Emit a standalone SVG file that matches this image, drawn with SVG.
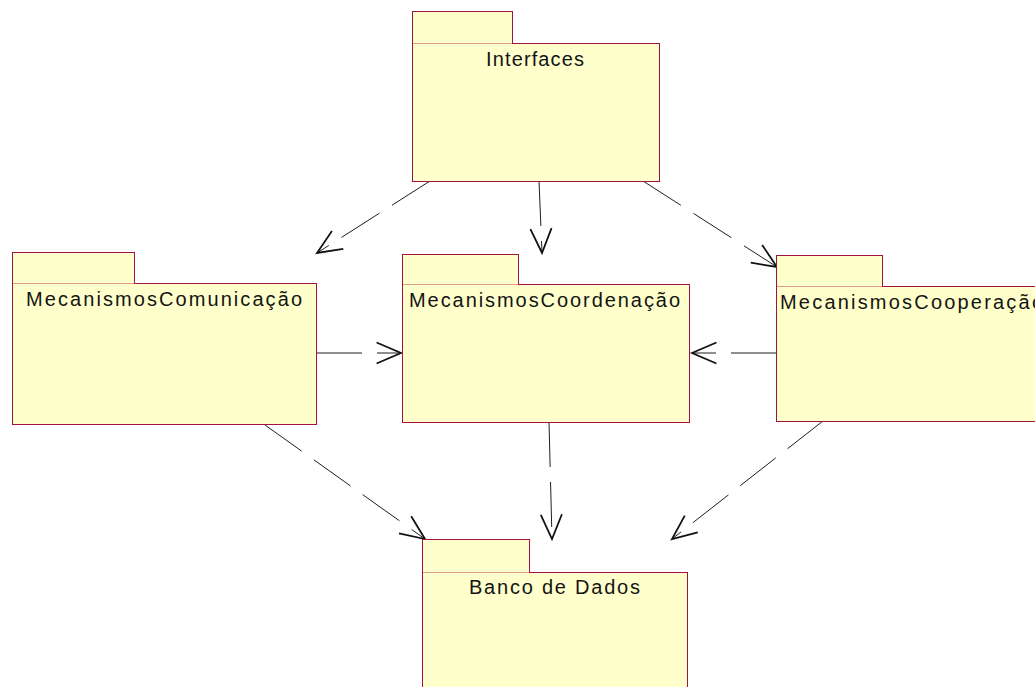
<svg xmlns="http://www.w3.org/2000/svg" width="1035" height="687" viewBox="0 0 1035 687">
  <style>
    .pkg { fill: #FFFFCC; stroke: #A3123E; stroke-width: 1; }
    .seam { stroke: #DE9C8C; stroke-width: 1; fill: none; }
    .lbl { font-family: "Liberation Sans", Arial, sans-serif; font-size: 20px; fill: #141414; }
    .dep { fill: none; stroke: #1E1E1E; stroke-width: 1; stroke-dasharray: 45 15; marker-end: url(#open); }
  </style>
  <defs>
    <marker id="open" markerUnits="userSpaceOnUse" markerWidth="30" markerHeight="30" viewBox="-25 -12 27 24" refX="0" refY="0" orient="auto" overflow="visible">
      <path d="M-22,-9.5 L0,0 L-22,9.5" fill="none" stroke="#111" stroke-width="1.6" stroke-dasharray="none"/>
    </marker>
  </defs>
  <rect width="1035" height="687" fill="#FFFFFF"/>

  <!-- dependency arrows -->
  <g id="connectors">
    <path class="dep" d="M430,181 L317,253"/>
    <path class="dep" d="M539,181 L542,253"/>
    <path class="dep" d="M643,181 L777,267"/>
    <path class="dep" d="M317,353 L401,353"/>
    <path class="dep" d="M776,353 L692,353"/>
    <path class="dep" d="M265,425 L425,539"/>
    <path class="dep" d="M549,422 L552,539"/>
    <path class="dep" d="M823,421 L672,539"/>
  </g>

  <!-- packages -->
  <g id="interfaces">
    <rect class="pkg" x="412.5" y="11.5" width="100" height="32"/>
    <rect class="pkg" x="412.5" y="43.5" width="247" height="138"/>
    <line class="seam" x1="413" y1="43.5" x2="512" y2="43.5"/>
    <text class="lbl" x="486" y="66" textLength="98" lengthAdjust="spacing">Interfaces</text>
  </g>

  <g id="mecanismos-comunicacao">
    <rect class="pkg" x="12.5" y="252.5" width="122" height="31"/>
    <rect class="pkg" x="12.5" y="283.5" width="304" height="141"/>
    <line class="seam" x1="13" y1="283.5" x2="134" y2="283.5"/>
    <text class="lbl" x="26" y="306" textLength="276" lengthAdjust="spacing">MecanismosComunicação</text>
  </g>

  <g id="mecanismos-coordenacao">
    <rect class="pkg" x="402.5" y="254.5" width="116" height="30"/>
    <rect class="pkg" x="402.5" y="284.5" width="287" height="138"/>
    <line class="seam" x1="403" y1="284.5" x2="518" y2="284.5"/>
    <text class="lbl" x="409" y="307" textLength="271" lengthAdjust="spacing">MecanismosCoordenação</text>
  </g>

  <g id="mecanismos-cooperacao">
    <rect class="pkg" x="776.5" y="255.5" width="106" height="31"/>
    <rect class="pkg" x="776.5" y="286.5" width="280" height="135"/>
    <line class="seam" x1="777" y1="286.5" x2="882" y2="286.5"/>
    <text class="lbl" x="780" y="309" textLength="263" lengthAdjust="spacing">MecanismosCooperação</text>
  </g>

  <g id="banco-de-dados">
    <rect class="pkg" x="422.5" y="539.5" width="107" height="33"/>
    <rect class="pkg" x="422.5" y="572.5" width="265" height="130"/>
    <line class="seam" x1="423" y1="572.5" x2="529" y2="572.5"/>
    <text class="lbl" x="469" y="594" textLength="171" lengthAdjust="spacing">Banco de Dados</text>
  </g>
</svg>
